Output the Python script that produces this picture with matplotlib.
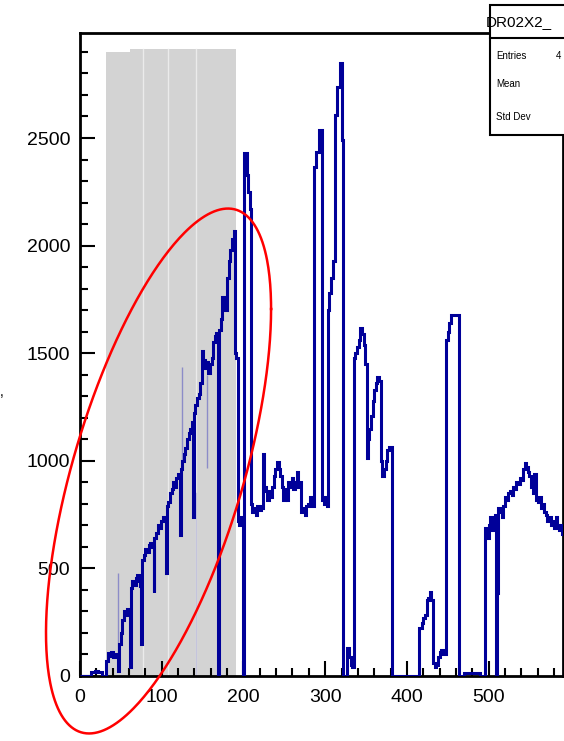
import numpy as np
import matplotlib.pyplot as plt
from matplotlib.patches import Rectangle

plt.rcParams['font.family'] = ['Liberation Sans', 'DejaVu Sans']

# histogram outline: bin start -> content
bin_starts = [0, 14, 18, 22, 27, 32, 34, 36, 38, 40, 43, 46, 48, 50, 52, 54, 56, 58, 60, 61,
              62, 64, 66, 68, 70, 72, 74, 75, 76, 78, 80, 82, 84, 86, 88, 90, 91, 93, 95, 97,
              99, 101, 103, 105, 106, 108, 110, 112, 114, 116, 118, 120, 122, 123, 125, 127,
              129, 131, 133, 135, 137, 138, 139, 141, 143, 145, 147, 149, 151, 153, 155, 157,
              159, 161, 163, 165, 167, 169, 170, 172, 174, 176, 178, 180, 182, 184, 186, 188,
              190, 191, 193, 195, 197, 199, 201, 204, 206, 208, 209, 211, 213, 215, 217, 219,
              221, 223, 224, 225, 227, 229, 231, 233, 235, 237, 239, 241, 243, 245, 247, 249,
              251, 253, 255, 257, 259, 261, 263, 265, 267, 269, 271, 273, 275, 277, 279, 281,
              283, 286, 289, 292, 296, 298, 300, 302, 303, 305, 307, 309, 312, 315, 318, 321,
              322, 327, 329, 331, 333, 335, 337, 339, 341, 343, 345, 347, 349, 351, 352, 354,
              356, 358, 360, 362, 364, 366, 368, 370, 372, 374, 376, 378, 382, 415, 418, 420,
              422, 424, 426, 428, 430, 432, 434, 436, 438, 440, 442, 444, 448, 450, 452, 454,
              464, 470, 490, 496, 498, 500, 502, 504, 506, 508, 509, 510, 512, 514, 516, 518,
              520, 522, 524, 526, 528, 530, 532, 534, 536, 538, 540, 542, 544, 546, 548, 550,
              552, 554, 556, 558, 560, 562, 564, 566, 568, 570, 572, 574, 576, 578, 580, 582,
              584, 586, 588, 590]
bin_end = 592
counts = [0, 20, 25, 18, 0, 70, 105, 95, 110, 90, 100, 25, 150, 200, 260, 300, 285, 310, 290, 40,
          410, 440, 425, 455, 470, 440, 420, 150, 540, 560, 590, 575, 610, 620, 600, 390, 640, 665, 700, 690,
          720, 740, 725, 478, 790, 810, 850, 870, 900, 880, 920, 940, 655, 960, 1000, 1030,
          1060, 1100, 1130, 1150, 1180, 740, 1220, 1260, 1290, 1310, 1360, 1510, 1470, 1430, 1460, 1410,
          1450, 1480, 1550, 1580, 1594, 0, 1610, 1660, 1760, 1720, 1700, 1850, 1930, 1980, 2030, 2070,
          1500, 1480, 720, 700, 740, 0, 2430, 2330, 2250, 2170, 800, 760, 780, 750, 790, 770,
          790, 780, 1030, 880, 860, 820, 860, 830, 880, 930, 960, 995, 960, 930, 880, 820,
          870, 820, 900, 880, 920, 870, 900, 950, 880, 900, 760, 780, 750, 790, 800, 830,
          790, 2365, 2435, 2537, 820, 800, 830, 790, 1700, 1780, 1850, 1930, 2607, 2737, 2848, 2490,
          0, 130, 90, 50, 40, 1480, 1500, 1530, 1560, 1617, 1590, 1540, 1450, 1013, 1100, 1150,
          1210, 1280, 1330, 1360, 1390, 1370, 1000, 930, 960, 1000, 1050, 1064, 0, 225, 245, 270,
          285, 355, 362, 390, 355, 60, 40, 50, 90, 110, 121, 100, 1560, 1600, 1640, 1677,
          0, 15, 0, 690, 640, 700, 740, 680, 720, 748, 0, 385, 780, 760, 740, 790,
          830, 820, 850, 860, 840, 880, 870, 900, 890, 920, 910, 960, 990, 970, 950, 930,
          880, 850, 940, 820, 810, 830, 780, 800, 760, 750, 720, 740, 700, 720, 690, 740,
          700, 680, 700, 660]

# grey band (several overlapping boxes)
band_edges = [32, 61, 77, 108, 142, 191]
band_tops = [2900, 2912, 2912, 2912, 2912]

# faint thin lines inside the band: x, low, high
faint_x = [46, 125, 155]
faint_lo = [90, 1000, 966]
faint_hi = [480, 1436, 1398]

fig = plt.figure(figsize=(5.64, 7.41), dpi=100)
ax = fig.add_axes([80 / 564, 1 - 676 / 741, 483 / 564, 643 / 741])

for i in range(len(band_tops)):
    ax.add_patch(Rectangle((band_edges[i], 0), band_edges[i + 1] - band_edges[i], band_tops[i],
                           facecolor='#d3d3d3', edgecolor='none', zorder=1))
for xd in band_edges[2:5]:
    ax.plot([xd, xd], [0, 2912], color='#ebebeb', lw=1, zorder=1.5)
ax.plot([142, 142], [0, 850], color='#c4c4dc', lw=1, zorder=1.6)

ax.vlines(faint_x, faint_lo, faint_hi, color='#8c8cc8', lw=1, zorder=1.8)

ax.stairs(counts, bin_starts + [bin_end], color='#000099', lw=2.2, zorder=3)

# red ellipse drawn by hand on the picture
t = np.linspace(0, 2 * np.pi, 400)
ex = 96.1 + 137.7 * np.cos(t)
ey = 952.6 + 752.8 * np.cos(t) - 959.6 * np.sin(t)
ax.plot(ex, ey, color='#ff0000', lw=1.8, clip_on=False, zorder=5)

ax.set_xlim(0, 591)
ax.set_ylim(0, 2988)
ax.set_xticks([0, 100, 200, 300, 400, 500])
ax.set_xticks(np.arange(0, 591, 20), minor=True)
ax.set_yticks([0, 500, 1000, 1500, 2000, 2500])
ax.set_yticks(np.arange(0, 2988, 100), minor=True)
ax.tick_params(which='both', direction='in', width=1.5, colors='black', labelsize=14)
ax.tick_params(which='major', length=11)
ax.tick_params(which='minor', length=6)
ax.tick_params(axis='x', pad=9)
ax.tick_params(axis='y', pad=7)
for s in ax.spines.values():
    s.set_linewidth(2)

# stats box, partly off the right edge
fig.patches.append(Rectangle((490 / 564, 1 - 135 / 741), 0.3, 130 / 741, transform=fig.transFigure,
                             facecolor='white', edgecolor='black', lw=1.5, zorder=10, figure=fig))
fig.lines.append(plt.Line2D([490 / 564, 1.1], [1 - 38 / 741, 1 - 38 / 741], transform=fig.transFigure,
                            color='black', lw=1.5, zorder=11, figure=fig))
fig.text(486 / 564, 1 - 22 / 741, 'DR02X2_', fontsize=11, va='center', ha='left', zorder=12)
fig.text(496 / 564, 1 - 56 / 741, 'Entries', fontsize=7, va='center', zorder=12)
fig.text(556 / 564, 1 - 56 / 741, '4', fontsize=7, va='center', zorder=12)
fig.text(496 / 564, 1 - 84 / 741, 'Mean', fontsize=7, va='center', zorder=12)
fig.text(496 / 564, 1 - 117 / 741, 'Std Dev', fontsize=7, va='center', zorder=12)
fig.text(0 / 564, 1 - 392 / 741, ',', fontsize=10, va='center', ha='left')

fig.savefig('out.png', dpi=100)
